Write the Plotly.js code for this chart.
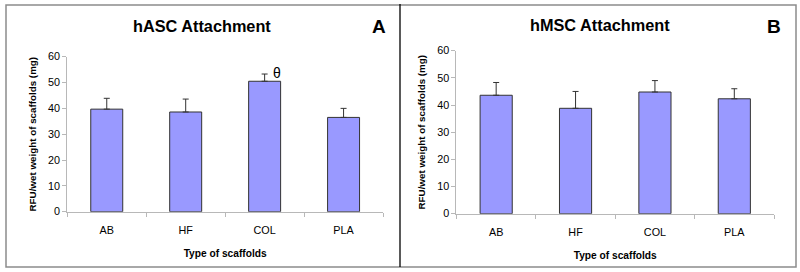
<!DOCTYPE html>
<html>
<head>
<meta charset="utf-8">
<script src="https://cdn.plot.ly/plotly-3.0.1.min.js"></script>
<style>
  html, body { margin: 0; padding: 0; background: #fff; }
  #chart { width: 800px; height: 272px; }
</style>
</head>
<body>
<div id="chart"></div>
<script>
// ---- data ----
const categories = ["AB", "HF", "COL", "PLA"];
const hascMean = [39.7, 38.6, 50.5, 36.5];
const hascErr  = [4.2, 5.0, 2.8, 3.5];
const hmscMean = [43.6, 38.8, 44.8, 42.3];
const hmscErr  = [4.7, 6.2, 4.2, 3.7];
const titleA = "hASC Attachment";
const titleB = "hMSC Attachment";
const yTitle = "RFU/wet weight of scaffolds (mg)";
const xTitle = "Type of scaffolds";
const sigMark = "θ";

const FONT = "Liberation Sans, Arial, sans-serif";
const barColor = "#9999FF";
const edge = "#333333";
const axisGray = "#b8b8b8";

function barTrace(y, err, xa, ya) {
  return {
    type: "bar", x: categories, y: y, xaxis: xa, yaxis: ya,
    marker: { color: barColor, line: { color: edge, width: 1 } },
    error_y: { type: "data", array: err, symmetric: false, arrayminus: err.map(() => 0),
               color: edge, thickness: 1, width: 3 },
    hoverinfo: "skip", showlegend: false
  };
}

function xAxis(domain, anchor) {
  return {
    domain: domain, anchor: anchor, type: "category", range: [-0.5, 3.5],
    showline: true, linecolor: axisGray, linewidth: 1, showgrid: false, zeroline: false,
    ticks: "outside", tickson: "boundaries", ticklen: 4, tickcolor: axisGray,
    ticklabelstandoff: 8,
    tickfont: { family: FONT, size: 10.8, color: "#000" },
    title: { text: "<b>" + xTitle + "</b>", font: { family: FONT, size: 10.2, color: "#000" }, standoff: 15 }
  };
}
function yAxis(domain, anchor) {
  return {
    domain: domain, anchor: anchor, range: [0, 60], dtick: 10, tick0: 0,
    showline: true, linecolor: axisGray, linewidth: 1, showgrid: false, zeroline: false,
    ticks: "outside", ticklen: 4, tickcolor: axisGray,
    tickfont: { family: FONT, size: 10.8, color: "#000" },
    title: { text: "<b>" + yTitle + "</b>", font: { family: FONT, size: 9.8, color: "#000" }, standoff: 9 }
  };
}

const data = [
  barTrace(hascMean, hascErr, "x", "y"),
  barTrace(hmscMean, hmscErr, "x2", "y2")
];

const layout = {
  width: 800, height: 272,
  margin: { l: 0, r: 0, t: 0, b: 0 },
  paper_bgcolor: "#fff", plot_bgcolor: "rgba(0,0,0,0)",
  bargap: 0.595,
  xaxis: xAxis([0.0841, 0.4788], "y"),
  yaxis: yAxis([0.2217, 0.7915], "x"),
  xaxis2: xAxis([0.5706, 0.9675], "y2"),
  yaxis2: yAxis([0.2143, 0.8136], "x2"),
  shapes: [
    { type: "rect", xref: "paper", yref: "paper", x0: 6/800, x1: 796/800, y0: (272-267)/272, y1: (272-5)/272,
      line: { color: "#8c8c8c", width: 1.5 }, fillcolor: "rgba(0,0,0,0)" },
    { type: "line", xref: "paper", yref: "paper", x0: 400/800, x1: 400/800, y0: (272-267)/272, y1: (272-4)/272,
      line: { color: "#000", width: 1.3 } }
  ],
  annotations: [
    { text: "<b>" + titleA + "</b>", xref: "paper", yref: "paper", x: 0.2525, y: 0.9044,
      xanchor: "center", yanchor: "middle", showarrow: false, font: { family: FONT, size: 16.3, color: "#000" } },
    { text: "<b>" + titleB + "</b>", xref: "paper", yref: "paper", x: 0.75, y: 0.908,
      xanchor: "center", yanchor: "middle", showarrow: false, font: { family: FONT, size: 16.3, color: "#000" } },
    { text: "<b>A</b>", xref: "paper", yref: "paper", x: 378.7/800, y: (272-26.7)/272,
      xanchor: "center", yanchor: "middle", showarrow: false, font: { family: FONT, size: 19, color: "#000" } },
    { text: "<b>B</b>", xref: "paper", yref: "paper", x: 774/800, y: (272-27)/272,
      xanchor: "center", yanchor: "middle", showarrow: false, font: { family: FONT, size: 19, color: "#000" } },
    { text: sigMark, xref: "x", yref: "y", x: categories[2], y: hascMean[2] + hascErr[2],
      xanchor: "center", yanchor: "middle", xshift: 12.5, yshift: 1, showarrow: false,
      font: { family: FONT, size: 14, color: "#000" } }
  ]
};

Plotly.newPlot("chart", data, layout, { staticPlot: true, displayModeBar: false });
</script>
</body>
</html>
